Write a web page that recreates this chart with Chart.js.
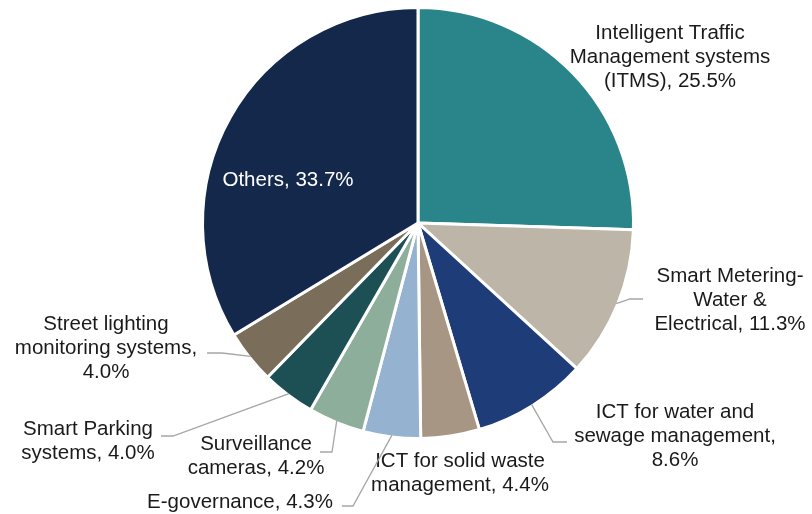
<!DOCTYPE html>
<html>
<head>
<meta charset="utf-8">
<script src="https://cdn.jsdelivr.net/npm/chart.js@4"></script>
<style>
html, body { margin: 0; padding: 0; background: #fff; }
#wrap { width: 812px; height: 514px; position: relative; }
</style>
</head>
<body>
<div id="wrap"><canvas id="pie"></canvas></div>
<script>
// data
var categories = [
	'Intelligent Traffic Management systems (ITMS)',
	'Smart Metering-Water & Electrical',
	'ICT for water and sewage management',
	'ICT for solid waste management',
	'E-governance',
	'Surveillance cameras',
	'Smart Parking systems',
	'Street lighting monitoring systems',
	'Others'
];
var shares = [25.5, 11.3, 8.6, 4.4, 4.3, 4.2, 4.0, 4.0, 33.7];

// styles
var sliceColors = ['#2a858a', '#bcb5a8', '#1d3c78', '#a69683', '#95b3d0', '#8cae9a', '#1c5054', '#7a6e5b', '#13284a'];

// label layout, offsets from pie centre. lines: wrapped text, %v = value
var labelLayout = [
	{lines: ['Intelligent Traffic', 'Management systems', '(ITMS), %v'], dx: 252, dy: -166},
	{lines: ['Smart Metering-', 'Water &', 'Electrical, %v'], dx: 312, dy: 77, leader: [[212, 76], [225, 76]]},
	{lines: ['ICT for water and', 'sewage management,', '%v'], dx: 257, dy: 213, leader: [[135, 219], [149, 219]]},
	{lines: ['ICT for solid waste', 'management, %v'], dx: 42, dy: 250},
	{lines: ['E-governance, %v'], dx: -178, dy: 279, leader: [[-65, 283], [-76, 283]]},
	{lines: ['Surveillance', 'cameras, %v'], dx: -162, dy: 233, leader: [[-86, 229], [-98, 229]]},
	{lines: ['Smart Parking', 'systems, %v'], dx: -330, dy: 218, leader: [[-245, 213], [-257, 213]]},
	{lines: ['Street lighting', 'monitoring systems,', '%v'], dx: -312, dy: 125, leader: [[-196, 130], [-211, 130]]},
	{lines: ['Others, %v'], dx: -130, dy: -43, color: '#ffffff'}
];

var pieLabels = {
	id: 'pieLabels',
	afterDatasetsDraw: function(chart){
		var ctx = chart.ctx;
		var meta = chart.getDatasetMeta(0);
		ctx.save();
		ctx.font = '20.5px "Liberation Sans", Arial, sans-serif';
		ctx.textAlign = 'center';
		ctx.textBaseline = 'middle';
		meta.data.forEach(function(arc, i){
			var lay = labelLayout[i];
			var cx = arc.x, cy = arc.y;
			if(lay.leader){
				var mid = (arc.startAngle + arc.endAngle) / 2;
				var r = arc.outerRadius - 1.5;
				ctx.beginPath();
				ctx.strokeStyle = '#a6a6a6';
				ctx.lineWidth = 1.3;
				ctx.moveTo(cx + Math.cos(mid) * r, cy + Math.sin(mid) * r);
				lay.leader.forEach(function(p){
					ctx.lineTo(cx + p[0], cy + p[1]);
				});
				ctx.stroke();
			}
			var val = shares[i].toFixed(1) + '%';
			var lh = 24;
			var top = cy + lay.dy - (lay.lines.length - 1) * lh / 2;
			ctx.fillStyle = lay.color || '#1a1a1a';
			lay.lines.forEach(function(t, k){
				ctx.fillText(t.replace('%v', val), cx + lay.dx, top + k * lh);
			});
		});
		ctx.restore();
	}
};

var config = {};
config.type = 'pie';
config.data = {
	labels: categories,
	datasets: [{
		data: shares,
		backgroundColor: sliceColors,
		borderColor: '#ffffff',
		borderWidth: 3
	}]
};
config.options = {
	responsive: true,
	maintainAspectRatio: false,
	animation: false,
	layout: {
		padding: {top: 6, bottom: 74, left: 201, right: 177}
	},
	plugins: {
		legend: {display: false},
		tooltip: {enabled: false}
	}
};
config.plugins = [pieLabels];

new Chart(document.getElementById('pie'), config);
</script>
</body>
</html>
